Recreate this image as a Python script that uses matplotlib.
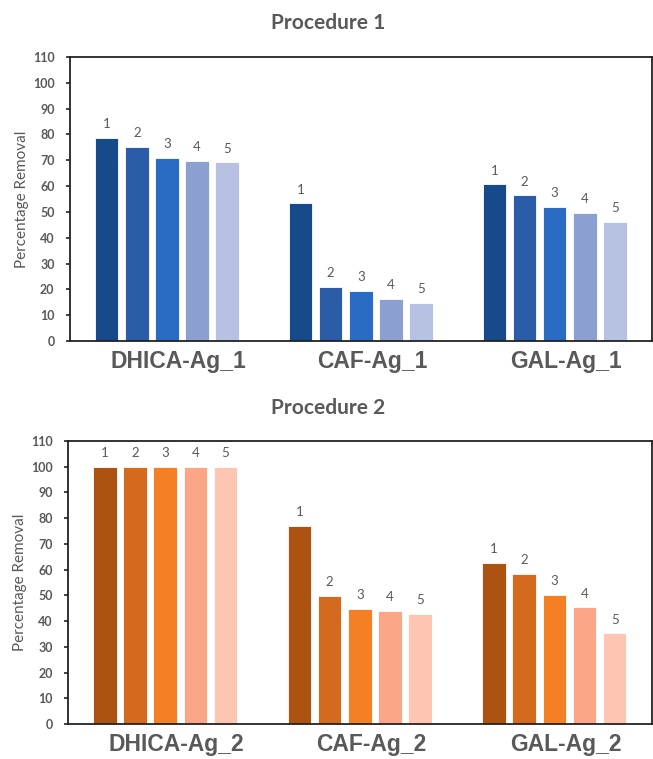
import numpy as np
import matplotlib
matplotlib.use("Agg")
import matplotlib.pyplot as plt
from matplotlib.transforms import offset_copy

# ---- data ----
groups_1 = ["DHICA-Ag_1", "CAF-Ag_1", "GAL-Ag_1"]
groups_2 = ["DHICA-Ag_2", "CAF-Ag_2", "GAL-Ag_2"]
cycles = ["1", "2", "3", "4", "5"]

dhica_1 = [78.8, 75.1, 70.8, 69.8, 69.2]
caf_1   = [53.3, 21.0, 19.4, 16.4, 14.8]
gal_1   = [60.7, 56.4, 52.0, 49.6, 46.2]

dhica_2 = [100, 100, 100, 100, 100]
caf_2   = [77.1, 49.8, 44.8, 43.9, 42.9]
gal_2   = [62.5, 58.4, 50.3, 45.3, 35.2]

BLUES   = ["#174a8b", "#2a5ca8", "#2a6bc4", "#8b9fd0", "#b7c2e2"]
ORANGES = ["#ad5312", "#d46a1e", "#f47f24", "#fba787", "#fec5b3"]
GREY = "#595959"
CAL = ["Lato", "DejaVu Sans"]

plt.rcParams["font.family"] = ["Liberation Sans", "DejaVu Sans"]

fig = plt.figure(figsize=(6.53, 7.59), dpi=100)
ax1 = fig.add_axes([0.107, 0.5507, 0.891, 0.3742])
ax2 = fig.add_axes([0.104, 0.0461, 0.894, 0.3729])

def panel(ax, groups, series, colors):
    vals = np.array(series)           # groups x cycles
    x = np.arange(len(groups))
    pitch, w = 0.155, 0.121
    for i in range(len(cycles)):
        xs = x + (i - 2) * pitch
        ax.bar(xs, vals[:, i], width=w, color=colors[i], edgecolor="white", linewidth=0.6, zorder=2)
        for xx, v in zip(xs, vals[:, i]):
            ax.text(xx, v + 3.0, cycles[i], ha="center", va="bottom", fontsize=9.5,
                    color=GREY, family=CAL)
    ax.set_xlim(-0.5, 2.5); ax.set_ylim(0, 110)
    ax.set_yticks(range(0, 111, 10))
    ax.set_yticklabels([str(t) for t in range(0, 111, 10)], fontsize=9, fontweight="bold",
                       color=GREY, family=CAL)
    # category labels sit a little right of the group centre in the original
    ax.set_xticks(x); ax.set_xticklabels([])
    tr = offset_copy(ax.get_xaxis_transform(), fig=fig, x=8, y=-14.8, units="points")
    for xx, g in zip(x, groups):
        ax.text(xx, 0, g, transform=tr, ha="center", va="center", fontsize=16.5,
                fontweight="bold", color=GREY)
    ax.tick_params(axis="x", length=0)
    ax.tick_params(axis="y", length=3, width=1.2, direction="out", color="#222222", pad=8)
    for s in ax.spines.values():
        s.set_color("#222222"); s.set_linewidth(1.3)
    ax.set_ylabel("Percentage Removal", fontsize=11, color=GREY, family=CAL, labelpad=3)

panel(ax1, groups_1, [dhica_1, caf_1, gal_1], BLUES)
panel(ax2, groups_2, [dhica_2, caf_2, gal_2], ORANGES)

fig.text(0.502, 1 - 23 / 759, "Procedure 1", ha="center", va="center", fontsize=15,
         fontweight="bold", color=GREY, family=CAL)
fig.text(0.502, 1 - 408 / 759, "Procedure 2", ha="center", va="center", fontsize=15,
         fontweight="bold", color=GREY, family=CAL)

fig.savefig("out.png", dpi=100)
